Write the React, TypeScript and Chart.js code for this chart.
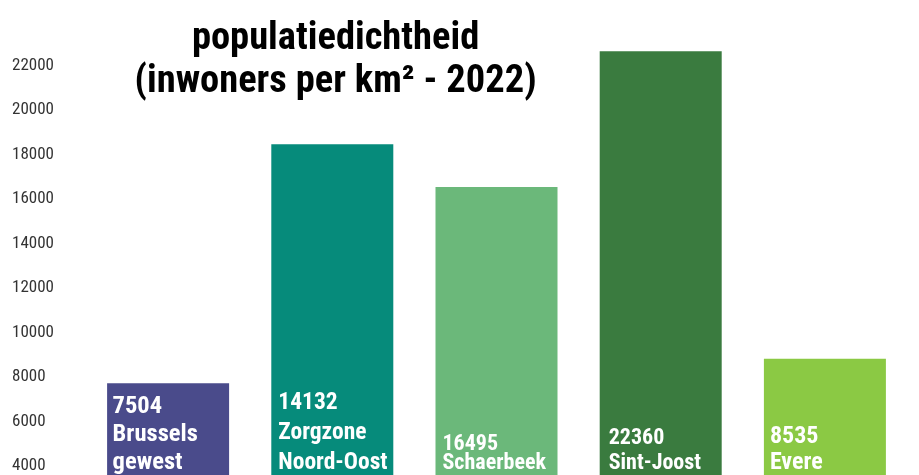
import React, { useEffect, useRef } from "react";
import { Chart, registerables } from "chart.js";

Chart.register(...registerables);

// ---- data ----
const categories = ["Brussels gewest", "Zorgzone Noord-Oost", "Schaerbeek", "Sint-Joost", "Evere"];
const barValues = [7720, 18460, 16540, 22650, 8820];
const valueLabels = ["7504", "14132", "16495", "22360", "8535"];
const nameLabels = [["Brussels", "gewest"], ["Zorgzone", "Noord-Oost"], ["Schaerbeek"], ["Sint-Joost"], ["Evere"]];
const barColors = ["#4a4b8b", "#068b7b", "#6bb87a", "#3a7b3f", "#8bc944"];
const titleLines = ["populatiedichtheid", "(inwoners per km² - 2022)"];
const yMin = 0;
const yMax = 24000;
const yStep = 2000;
const labelAnchorValue = 3880;

// ---- styles ----
const CONDENSED = "'Roboto Condensed', 'Liberation Sans Narrow', 'DejaVu Sans Condensed', 'Arial Narrow', sans-serif";
const labelFontSizes = [24.5, 23.5, 22, 22, 24];
const labelLineGaps = [28, 30, 19, 25, 26];
const labelOffsets = [5.5, 7, 7, 9, 6];

const barLabelPlugin = {
  id: "barLabels",
  afterDatasetsDraw(chart: any) {
    const ctx = chart.ctx;
    const meta = chart.getDatasetMeta(0);
    const yScale = chart.scales.y;
    const baseY = yScale.getPixelForValue(labelAnchorValue);
    ctx.save();
    ctx.fillStyle = "#ffffff";
    ctx.textAlign = "left";
    ctx.textBaseline = "alphabetic";
    meta.data.forEach((bar: any, i: number) => {
      const lines = [valueLabels[i], ...nameLabels[i]];
      const left = bar.x - bar.width / 2 + labelOffsets[i];
      ctx.font = `bold ${labelFontSizes[i]}px ${CONDENSED}`;
      const n = lines.length;
      lines.forEach((t, j) => {
        const y = baseY - (n - 1 - j) * labelLineGaps[i];
        ctx.fillText(t, left, y);
      });
    });
    ctx.restore();
  },
};

const titlePlugin = {
  id: "customTitle",
  afterDraw(chart: any) {
    const ctx = chart.ctx;
    const area = chart.chartArea;
    const cx = area.left + area.width * 0.304;
    ctx.save();
    ctx.fillStyle = "#000000";
    ctx.textAlign = "center";
    ctx.textBaseline = "alphabetic";
    ctx.font = `bold 38.5px ${CONDENSED}`;
    ctx.fillText(titleLines[0], cx, 41);
    ctx.fillText(titleLines[1], cx, 84);
    ctx.restore();
  },
};

export default function App() {
  const ref = useRef<HTMLCanvasElement | null>(null);
  useEffect(() => {
    if (!ref.current) return;
    const chart = new Chart(ref.current, {
      type: "bar",
      data: {
        labels: categories,
        datasets: [
          {
            data: barValues,
            backgroundColor: barColors,
            borderWidth: 0,
            categoryPercentage: 1,
            barPercentage: 0.743,
          },
        ],
      },
      options: {
        animation: false,
        responsive: false,
        maintainAspectRatio: false,
        layout: { padding: { left: 4, right: 4, top: 12, bottom: 12 } },
        plugins: {
          legend: { display: false },
          title: { display: false },
          tooltip: { enabled: false },
        },
        scales: {
          x: { display: false },
          y: {
            min: yMin,
            max: yMax,
            grid: { display: false },
            border: { display: false },
            afterFit(scale: any) {
              scale.width = 74;
            },
            ticks: {
              stepSize: yStep,
              crossAlign: "far",
              color: "#333333",
              font: { family: CONDENSED, size: 17 },
              callback: (v: any) => (Number(v) === yMax ? "" : String(v)),
            },
          },
        },
      },
      plugins: [barLabelPlugin, titlePlugin],
    });
    return () => chart.destroy();
  }, []);
  return (
    <div style={{ width: 903, height: 560 }}>
      <canvas ref={ref} width={903} height={560} style={{ display: "block" }} />
    </div>
  );
}
